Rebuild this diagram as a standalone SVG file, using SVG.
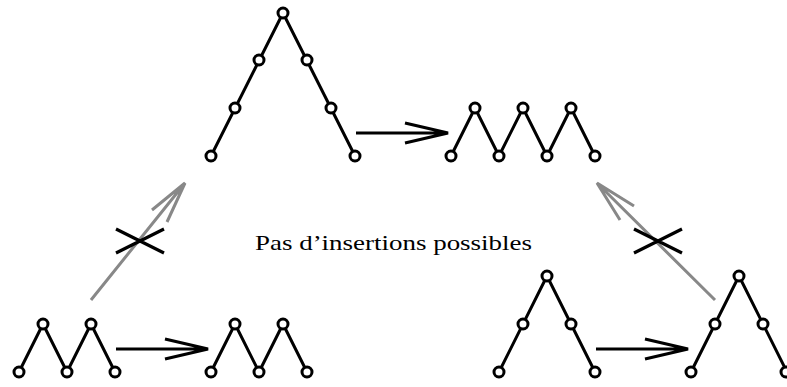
<svg xmlns="http://www.w3.org/2000/svg" width="787" height="387" viewBox="0 0 787 387">
<style>
.e{fill:none;stroke:#000;stroke-width:3;stroke-linejoin:round}
.n{fill:#fff;stroke:#000;stroke-width:3}
.a{fill:none;stroke:#000;stroke-width:3.2}
.g{fill:none;stroke:#888;stroke-width:3}
.x{fill:none;stroke:#000;stroke-width:3.2}
text{font-family:"Liberation Serif","DejaVu Serif",serif;font-size:22px;fill:#000}
</style>
<rect width="787" height="387" fill="#fff"/>
<g id="connectors">
<path class="a" d="M356 133H448M405 123L448 133L405 143"/>
<path class="a" d="M116 349H208M165 339L208 349L165 359"/>
<path class="a" d="M596 349H688M645 339L688 349L645 359"/>
<path class="g" d="M91 300L185 183M152 210L185 183L167 222"/>
<path class="x" d="M116 229L164 253M116 253L164 229"/>
<path class="g" d="M715 300L597 183M634 206L597 183L620 220"/>
<path class="x" d="M634 229L682 253M634 253L682 229"/>
</g>
<g id="tree-top">
<path class="e" d="M211 156L283 13L355 156"/>
<circle class="n" cx="283" cy="13" r="5"/>
<circle class="n" cx="259" cy="60" r="5"/>
<circle class="n" cx="235" cy="108" r="5"/>
<circle class="n" cx="211" cy="156" r="5"/>
<circle class="n" cx="307" cy="60" r="5"/>
<circle class="n" cx="331" cy="108" r="5"/>
<circle class="n" cx="355" cy="156" r="5"/>
</g>
<g id="zigzag-top">
<path class="e" d="M451 156L475 108L499 156L523 108L547 156L571 108L595 156"/>
<circle class="n" cx="451" cy="156" r="5"/>
<circle class="n" cx="475" cy="108" r="5"/>
<circle class="n" cx="499" cy="156" r="5"/>
<circle class="n" cx="523" cy="108" r="5"/>
<circle class="n" cx="547" cy="156" r="5"/>
<circle class="n" cx="571" cy="108" r="5"/>
<circle class="n" cx="595" cy="156" r="5"/>
</g>
<g id="zigzag-bl1">
<path class="e" d="M19 372L43 324L67 372L91 324L115 372"/>
<circle class="n" cx="19" cy="372" r="5"/>
<circle class="n" cx="43" cy="324" r="5"/>
<circle class="n" cx="67" cy="372" r="5"/>
<circle class="n" cx="91" cy="324" r="5"/>
<circle class="n" cx="115" cy="372" r="5"/>
</g>
<g id="zigzag-bl2">
<path class="e" d="M211 372L235 324L259 372L283 324L307 372"/>
<circle class="n" cx="211" cy="372" r="5"/>
<circle class="n" cx="235" cy="324" r="5"/>
<circle class="n" cx="259" cy="372" r="5"/>
<circle class="n" cx="283" cy="324" r="5"/>
<circle class="n" cx="307" cy="372" r="5"/>
</g>
<g id="tree-br1">
<path class="e" d="M499 372L547 276L595 372"/>
<circle class="n" cx="547" cy="276" r="5"/>
<circle class="n" cx="523" cy="324" r="5"/>
<circle class="n" cx="499" cy="372" r="5"/>
<circle class="n" cx="571" cy="324" r="5"/>
<circle class="n" cx="595" cy="372" r="5"/>
</g>
<g id="tree-br2">
<path class="e" d="M691 372L739 276L787 372"/>
<circle class="n" cx="739" cy="276" r="5"/>
<circle class="n" cx="715" cy="324" r="5"/>
<circle class="n" cx="691" cy="372" r="5"/>
<circle class="n" cx="763" cy="324" r="5"/>
<circle class="n" cx="786" cy="372" r="5"/>
</g>
<g id="label">
<text x="255" y="250" textLength="277" lengthAdjust="spacingAndGlyphs">Pas d’insertions possibles</text>
</g>
</svg>
